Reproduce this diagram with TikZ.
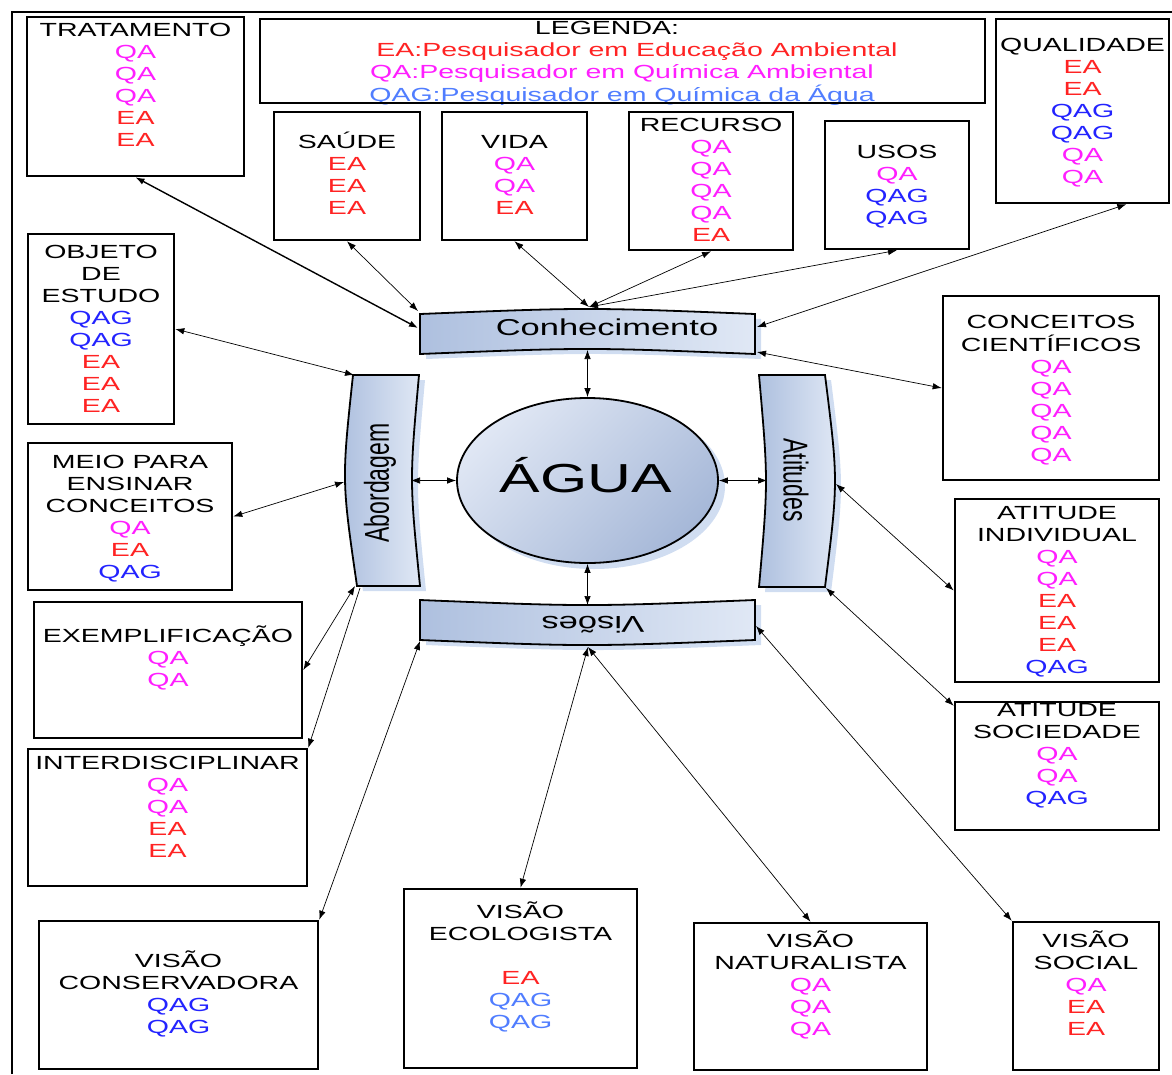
\documentclass[tikz,border=0pt]{standalone}
\usepackage{fontspec}
\usepackage{graphicx}
\setmainfont[FakeStretch=1.5]{Liberation Sans}
\newfontfamily\plainsans{Liberation Sans}
\usetikzlibrary{arrows.meta,fit,shapes.geometric}
\definecolor{cEA}{RGB}{255,35,35}
\definecolor{cQA}{RGB}{255,30,255}
\definecolor{cQAG}{RGB}{35,35,255}
\definecolor{cQAGl}{RGB}{80,125,255}
\definecolor{barD}{RGB}{174,192,223}
\definecolor{barL}{RGB}{224,232,245}
\definecolor{barS}{RGB}{208,221,241}
\definecolor{cirL}{RGB}{224,231,244}
\definecolor{cirD}{RGB}{166,184,216}
\newcommand\cea{\textcolor{cEA}{EA}}
\newcommand\cqa{\textcolor{cQA}{QA}}
\newcommand\cqag{\textcolor{cQAG}{QAG}}
\newcommand\cqagl{\textcolor{cQAGl}{QAG}}
\newcommand\stk[1]{\begin{tabular}[t]{@{}c@{}}#1\end{tabular}}
\begin{document}
\begin{tikzpicture}[x=1pt,y=-1pt,
  bx/.style={draw=black, line width=2.6pt, inner sep=0pt},
  txt/.style={anchor=base, inner sep=0pt, font=\fontsize{19}{22}\selectfont},
  lnk/.style={{Latex[length=9pt,width=6.5pt]}-{Latex[length=9pt,width=6.5pt]}, line width=0.7pt},
  lnkone/.style={-{Latex[length=9pt,width=6.5pt]}, line width=0.7pt},
  bar/.style={draw=black, line width=1.8pt, left color=barD, right color=barL},
  barsh/.style={fill=barS},
  lbl/.style={inner sep=0pt, font=\fontsize{23}{26}\selectfont},
  rlbl/.style={inner sep=0pt, font=\plainsans\fontsize{23}{26}\selectfont}]
\useasboundingbox (0,0) rectangle (1172,1074);
% outer frame
\draw[line width=2.2pt] (12,1074) -- (12,12) -- (1172,12);

% ---- texts ----
\node[txt] (tratT) at (135.5,36) {\stk{TRATAMENTO\\\cqa\\\cqa\\\cqa\\\cea\\\cea}};
\node[txt] (legT) at (622,34) {\stk{\hspace*{-30pt}LEGENDA:\\\hspace*{30pt}\textcolor{cEA}{EA:Pesquisador em Educação Ambiental}\\\textcolor{cQA}{QA:Pesquisador em Química Ambiental}\\\textcolor{cQAGl}{QAG:Pesquisador em Química da Água}}};
\node[txt] (saudeT) at (347,148) {\stk{SAÚDE\\\cea\\\cea\\\cea}};
\node[txt] (vidaT) at (514.5,148) {\stk{VIDA\\\cqa\\\cqa\\\cea}};
\node[txt] (recT) at (711,131) {\stk{RECURSO\\\cqa\\\cqa\\\cqa\\\cqa\\\cea}};
\node[txt] (usosT) at (897,158) {\stk{USOS\\\cqa\\\cqag\\\cqag}};
\node[txt] (qualT) at (1082.5,51) {\stk{QUALIDADE\\\cea\\\cea\\\cqag\\\cqag\\\cqa\\\cqa}};
\node[txt] (objT) at (101,258) {\stk{OBJETO\\DE\\ESTUDO\\\cqag\\\cqag\\\cea\\\cea\\\cea}};
\node[txt] (meioT) at (130,468) {\stk{MEIO PARA\\ENSINAR\\CONCEITOS\\\cqa\\\cea\\\cqag}};
\node[txt] (exemT) at (168,642) {\stk{EXEMPLIFICAÇÃO\\\cqa\\\cqa}};
\node[txt] (interT) at (167.5,769) {\stk{INTERDISCIPLINAR\\\cqa\\\cqa\\\cea\\\cea}};
\node[txt] (vconsT) at (178.5,967) {\stk{VISÃO\\CONSERVADORA\\\cqag\\\cqag}};
\node[txt] (vecoT) at (520.5,918) {\stk{VISÃO\\ECOLOGISTA\\ \\\cea\\\cqagl\\\cqagl}};
\node[txt] (vnatT) at (810.5,947) {\stk{VISÃO\\NATURALISTA\\\cqa\\\cqa\\\cqa}};
\node[txt] (vsocT) at (1086,947) {\stk{VISÃO\\SOCIAL\\\cqa\\\cea\\\cea}};
\node[txt] (asocT) at (1057,716) {\stk{ATITUDE\\SOCIEDADE\\\cqa\\\cqa\\\cqag}};
\node[txt] (concT) at (1051,328) {\stk{CONCEITOS\\CIENTÍFICOS\\\cqa\\\cqa\\\cqa\\\cqa\\\cqa}};
\node[txt] (aindT) at (1057,519) {\stk{ATITUDE\\INDIVIDUAL\\\cqa\\\cqa\\\cea\\\cea\\\cea\\\cqag}};

% ---- boxes ----
\node[bx, fit={(27,17) (244,176)}] (trat) {};
\node[bx, fit={(260,19) (985,103)}] (leg) {};
\node[bx, fit={(274,112) (420,240)}] (saude) {};
\node[bx, fit={(442,112) (587,240)}] (vida) {};
\node[bx, fit={(629,112) (793,250)}] (rec) {};
\node[bx, fit={(825,121) (969,249)}] (usos) {};
\node[bx, fit={(996,19) (1169,203)}] (qual) {};
\node[bx, fit={(28,234) (174,424)}] (obj) {};
\node[bx, fit={(28,443) (232,590)}] (meio) {};
\node[bx, fit={(34,602) (302,738)}] (exem) {};
\node[bx, fit={(28,749) (307,886)}] (inter) {};
\node[bx, fit={(39,921) (318,1069)}] (vcons) {};
\node[bx, fit={(404,889) (637,1068)}] (veco) {};
\node[bx, fit={(694,923) (927,1070)}] (vnat) {};
\node[bx, fit={(1013,922) (1159,1070)}] (vsoc) {};
\node[bx, fit={(955,702) (1159,830)}] (asoc) {};
\node[bx, fit={(943,296) (1159,480)}] (conc) {};
\node[bx, fit={(955,499) (1159,682)}] (aind) {};

% ---- central bars ----
% Conhecimento
\fill[barsh, shift={(6,5)}] (420,314) .. controls (587,307.3) .. (755,314) -- (755,354) .. controls (587,347.3) .. (420,354) -- cycle;
\draw[bar] (420,314) .. controls (587,307.3) .. (755,314) -- (755,354) .. controls (587,347.3) .. (420,354) -- cycle;
% Abordagem
\fill[barsh, shift={(6,5)}] (353,375) -- (419,375) .. controls (409.5,480.5) .. (420,586) -- (357,586) .. controls (341.7,480.5) .. (353,375) -- cycle;
\draw[bar] (353,375) -- (419,375) .. controls (409.5,480.5) .. (420,586) -- (357,586) .. controls (341.7,480.5) .. (353,375) -- cycle;
% Atitudes
\fill[barsh, shift={(6,5)}] (759,375) -- (825,375) .. controls (838.3,481) .. (825,587) -- (759,587) .. controls (768.3,481) .. (759,375) -- cycle;
\draw[bar] (759,375) -- (825,375) .. controls (838.3,481) .. (825,587) -- (759,587) .. controls (768.3,481) .. (759,375) -- cycle;
% Visoes
\fill[barsh, shift={(6,5)}] (420,600) .. controls (587,606.7) .. (755,600) -- (755,640) .. controls (587,646.7) .. (420,640) -- cycle;
\draw[bar] (420,600) .. controls (587,606.7) .. (755,600) -- (755,640) .. controls (587,646.7) .. (420,640) -- cycle;

\node[lbl, anchor=base] (conT) at (607,335) {Conhecimento};
\node[rlbl, rotate=90] (abT) at (380,483) {\scalebox{1}[1.5]{Abordagem}};
\node[rlbl, rotate=-90] (atT) at (796,480) {\scalebox{1}[1.5]{Atitudes}};
\node[lbl, rotate=180] (viT) at (593,625) {Visões};

% ÁGUA
\fill[barsh] (594,486) ellipse [x radius=131, y radius=83];
\node[ellipse, draw=black, line width=1.8pt, minimum width=261pt, minimum height=165pt, inner sep=0pt, top color=cirL, bottom color=cirD, shading angle=45] (agua) at (587.5,480.5) {};
\node[inner sep=0pt, anchor=base, font=\fontsize{40.5}{44}\selectfont] (aguaT) at (586,492) {ÁGUA};

% connection points on bars
\coordinate (cTrat) at (418,328);
\coordinate (cSaude) at (418,311);
\coordinate (cTop) at (589,307);
\coordinate (cQual) at (757,327);
\coordinate (cConc) at (757,352);
\coordinate (cBot) at (587.5,350);
\coordinate (aObj) at (354,375);
\coordinate (aMeio) at (344,482);
\coordinate (aRight) at (411,480.5);
\coordinate (aExem) at (355,586);
\coordinate (aInter) at (360,588);
\coordinate (tLeft) at (767,480.5);
\coordinate (tInd) at (836,484);
\coordinate (tSoc) at (826,588);
\coordinate (vTop) at (587.5,605);
\coordinate (vCons) at (420,641);
\coordinate (vEco) at (588,647);
\coordinate (vSoc) at (756,626);

% ---- connectors ----
\draw[lnk, line width=1.4pt] (trat.south) -- (cTrat);
\draw[lnk] (saude.south) -- (cSaude);
\draw[lnk] (vida.south) -- (cTop);
\draw[lnk] (rec.south) -- (cTop);
\draw[lnk] (usos.south) -- (cTop);
\draw[lnk] ([xshift=-44pt]qual.south east) -- (cQual);
\draw[lnk] (conc.west) -- (cConc);
\draw[lnk] (cBot) -- (agua.north);
\draw[lnk] (obj.east) -- (aObj);
\draw[lnk] (meio.east) -- (aMeio);
\draw[lnk] (aRight) -- (agua.west);
\draw[lnk] (agua.east) -- (tLeft);
\draw[lnk] (agua.south) -- (vTop);
\draw[lnk] (exem.east) -- (aExem);
\draw[lnkone] (aInter) -- (inter.north east);
\draw[lnk] (vcons.north east) -- (vCons);
\draw[lnk] (veco.north) -- (vEco);
\draw[lnk] (vnat.north) -- (vEco);
\draw[lnk] (vsoc.north west) -- (vSoc);
\draw[lnk] ([yshift=-5pt]asoc.north west) -- (tSoc);
\draw[lnk] (aind.west) -- (tInd);
\end{tikzpicture}
\end{document}
